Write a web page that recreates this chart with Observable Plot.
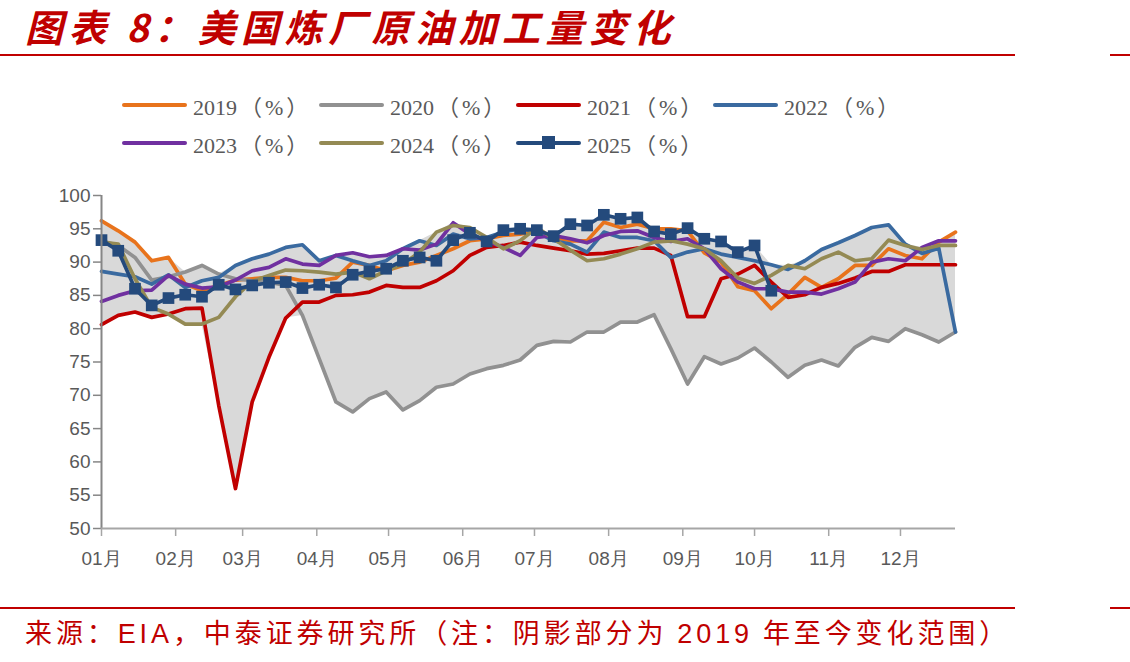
<!DOCTYPE html>
<html>
<head>
<meta charset="utf-8">
<script src="https://cdn.jsdelivr.net/npm/d3@7"></script>
<script src="https://cdn.jsdelivr.net/npm/@observablehq/plot@0.6"></script>
<style>
  html, body { margin: 0; padding: 0; background: #fff; }
  body { width: 1130px; height: 662px; position: relative; overflow: hidden; }
  .title { position: absolute; left: 25px; top: -2px; font-family: "Noto Sans CJK SC", sans-serif; font-weight: 700; font-style: italic; font-size: 38px; letter-spacing: 5.5px; color: #C00000; white-space: nowrap; }
  .rule { position: absolute; height: 2px; background: #C00000; }
  .legend-item { position: absolute; height: 24px; display: flex; align-items: center; }
  .swatch { position: relative; width: 65px; height: 24px; margin-right: 6px; }
  .swatch .ln { position: absolute; left: 0; right: 0; top: 10px; height: 4px; border-radius: 2px; }
  .swatch .sq { position: absolute; left: 26px; top: 5px; width: 13px; height: 13px; }
  .legend-item span { font-family: "Liberation Serif", serif; font-size: 22px; color: #595959; white-space: nowrap; }
  .legend-item span .p { font-family: "Noto Sans CJK SC", sans-serif; font-size: 22px; padding: 0 3px; }
  .caption { position: absolute; left: 25px; top: 612px; font-family: "Noto Sans CJK SC", sans-serif; font-size: 27px; letter-spacing: 3.9px; color: #C00000; white-space: nowrap; }
  .caption .lat { font-family: "Liberation Sans", Arial, sans-serif; }
  #chart { position: absolute; left: 0; top: 170px; }
</style>
</head>
<body>
<div class="title">图表 8：美国炼厂原油加工量变化</div>
<div class="rule" style="left:0;width:1015px;top:54px"></div>
<div class="rule" style="left:1110px;width:20px;top:54px"></div>
<div id="legend"></div>
<div id="chart"></div>
<div class="rule" style="left:0;width:1015px;top:607px"></div>
<div class="rule" style="left:1110px;width:20px;top:607px"></div>
<div class="caption">来源：<span class="lat">EIA</span>，中泰证券研究所（注：阴影部分为 <span class="lat">2019</span> 年至今变化范围）</div>
<script>
// ---- data (weekly refinery utilization, %) ----
const years = ["2019", "2020", "2021", "2022", "2023", "2024", "2025"];
const colors = ["#E8731C", "#919191", "#C00000", "#3A6AA0", "#7030A0", "#948A54", "#244A7C"];
const monthDays = [0, 31, 59, 90, 120, 151, 181, 212, 243, 273, 304, 334];
const monthLabels = ["01月", "02月", "03月", "04月", "05月", "06月", "07月", "08月", "09月", "10月", "11月", "12月"];
const yTicks = [50, 55, 60, 65, 70, 75, 80, 85, 90, 95, 100];

const y2019 = [96.2, 94.7, 93.0, 90.2, 90.7, 86.7, 85.7, 86.5, 87.3, 87.5, 87.7, 87.7, 87.2, 87.2, 87.6, 90.0, 89.5, 88.7, 89.5, 90.0, 91.0, 92.0, 93.2, 93.5, 94.0, 94.2, 94.7, 93.7, 93.2, 93.2, 96.0, 95.2, 95.7, 95.0, 95.0, 94.7, 91.4, 90.0, 86.3, 85.7, 83.0, 85.2, 87.7, 86.2, 87.5, 89.5, 89.5, 92.0, 91.0, 90.5, 93.0, 94.5];
const y2020 = [93.2, 92.5, 90.7, 87.3, 87.8, 88.5, 89.5, 88.2, 87.5, 87.2, 87.0, 86.5, 82.0, 75.5, 69.0, 67.5, 69.5, 70.5, 67.8, 69.2, 71.2, 71.7, 73.2, 74.0, 74.5, 75.3, 77.5, 78.1, 78.0, 79.5, 79.5, 81.0, 81.0, 82.1, 77.0, 71.7, 75.8, 74.7, 75.6, 77.1, 75.0, 72.7, 74.5, 75.3, 74.4, 77.2, 78.7, 78.1, 80.0, 79.1, 78.0, 79.5];
const y2021 = [80.6, 82.0, 82.5, 81.7, 82.2, 83.0, 83.1, 68.5, 56.0, 69.0, 75.7, 81.6, 84.0, 84.0, 85.0, 85.1, 85.5, 86.5, 86.2, 86.2, 87.2, 88.7, 91.0, 92.2, 92.5, 93.0, 92.5, 92.1, 91.7, 91.2, 91.3, 91.7, 92.1, 92.1, 91.0, 81.8, 81.8, 87.5, 88.2, 89.5, 87.0, 84.7, 85.1, 86.2, 86.8, 87.6, 88.6, 88.6, 89.6, 89.6, 89.6, 89.6];
const y2022 = [88.6, 88.2, 87.8, 86.7, 88.1, 86.2, 87.2, 87.7, 89.5, 90.5, 91.2, 92.2, 92.6, 90.2, 91.0, 90.2, 89.5, 90.2, 92.0, 93.2, 92.5, 94.2, 93.5, 93.7, 94.5, 95.0, 94.5, 93.2, 92.7, 91.5, 94.5, 93.7, 93.7, 93.2, 90.7, 91.5, 92.0, 91.2, 90.7, 90.2, 89.6, 88.9, 90.2, 91.9, 92.9, 94.0, 95.2, 95.6, 92.7, 91.3, 92.1, 79.5];
const y2023 = [84.1, 85.0, 85.7, 85.8, 88.0, 86.7, 86.1, 86.3, 87.3, 88.7, 89.2, 90.5, 89.7, 89.5, 91.0, 91.4, 90.8, 91.0, 92.0, 91.8, 92.7, 95.9, 94.2, 93.2, 92.2, 91.0, 93.7, 94.0, 93.5, 92.9, 94.0, 94.6, 94.7, 93.7, 93.1, 93.5, 92.0, 89.0, 87.0, 86.0, 86.0, 85.5, 85.5, 85.2, 86.0, 87.0, 90.0, 90.5, 90.2, 92.2, 93.2, 93.2];
const y2024 = [93.0, 92.7, 87.5, 83.2, 82.2, 80.7, 80.7, 81.7, 84.8, 87.1, 88.0, 88.8, 88.7, 88.5, 88.2, 88.5, 87.5, 88.7, 89.7, 91.5, 94.5, 95.5, 95.2, 93.7, 92.0, 93.2, 95.2, 93.5, 91.8, 90.2, 90.5, 91.2, 92.0, 93.0, 93.2, 92.7, 92.0, 90.2, 87.6, 86.8, 88.0, 89.5, 89.0, 90.5, 91.5, 90.2, 90.5, 93.3, 92.5, 91.9, 92.5, 92.5];
const y2025 = [93.3, 91.7, 86.0, 83.5, 84.6, 85.1, 84.8, 86.6, 85.9, 86.5, 86.9, 87.0, 86.1, 86.6, 86.2, 88.1, 88.6, 89.0, 90.2, 90.7, 90.2, 93.3, 94.4, 93.1, 94.8, 95.0, 94.8, 93.9, 95.7, 95.5, 97.1, 96.5, 96.7, 94.6, 94.2, 95.1, 93.5, 93.1, 91.5, 92.5, 85.7];

const series = [y2019, y2020, y2021, y2022, y2023, y2024, y2025];

// ---- build tables ----
const rows = [];
series.forEach((arr, k) => arr.forEach((v, i) => rows.push({year: years[k], day: i * 7, v})));
const band = y2019.map((_, i) => {
  const vals = series.map(a => a[i]).filter(v => v != null);
  return {day: i * 7, lo: d3.min(vals), hi: d3.max(vals)};
});

// ---- legend ----
const legend = document.getElementById("legend");
years.forEach((yr, k) => {
  const row = k < 4 ? 0 : 1, col = k < 4 ? k : k - 4;
  const item = document.createElement("div");
  item.className = "legend-item";
  item.style.left = (122 + col * 197) + "px";
  item.style.top = (row === 0 ? 93 : 131) + "px";
  const sw = document.createElement("div");
  sw.className = "swatch";
  const ln = document.createElement("div");
  ln.className = "ln"; ln.style.background = colors[k];
  sw.appendChild(ln);
  if (yr === "2025") {
    const sq = document.createElement("div");
    sq.className = "sq"; sq.style.background = colors[k];
    sw.appendChild(sq);
  }
  item.appendChild(sw);
  const t = document.createElement("span");
  t.innerHTML = yr + '<span class="p">（</span>%<span class="p">）</span>';
  item.appendChild(t);
  legend.appendChild(item);
});

// ---- chart ----
const lineMarks = years.map((yr, k) =>
  Plot.lineY(rows.filter(r => r.year === yr), {x: "day", y: "v", stroke: colors[k], strokeWidth: 3.7, strokeLinejoin: "round"})
);

const chart = Plot.plot({
  width: 1130,
  height: 420,
  marginLeft: 101,
  marginRight: 175,
  marginTop: 25,
  marginBottom: 62,
  x: {domain: [0, 357]},
  y: {domain: [50, 100]},
  style: {fontFamily: "'Liberation Sans', Arial, sans-serif", fontSize: "19px", color: "#595959", background: "transparent"},
  marks: [
    Plot.areaY(band, {x: "day", y1: "lo", y2: "hi", fill: "#D9D9D9"}),
    ...lineMarks,
    Plot.dot(rows.filter(r => r.year === "2025"), {x: "day", y: "v", symbol: "square", r: 6.6, fill: colors[6], stroke: "none"}),
    Plot.ruleX([0], {y1: 50, y2: 100, stroke: "#868686", strokeWidth: 2}),
    Plot.ruleY([50], {x1: 0, x2: 357, stroke: "#A6A6A6", strokeWidth: 2}),
    Plot.axisY({ticks: yTicks, tickSize: 8, tickPadding: 3, stroke: "#868686", strokeWidth: 1.5, label: null}),
    Plot.axisX({ticks: monthDays, tickSize: 8, tickPadding: 15, stroke: "#A6A6A6", strokeWidth: 1.5, label: null,
      tickFormat: d => monthLabels[monthDays.indexOf(d)]})
  ]
});
document.getElementById("chart").appendChild(chart);
</script>
</body>
</html>
